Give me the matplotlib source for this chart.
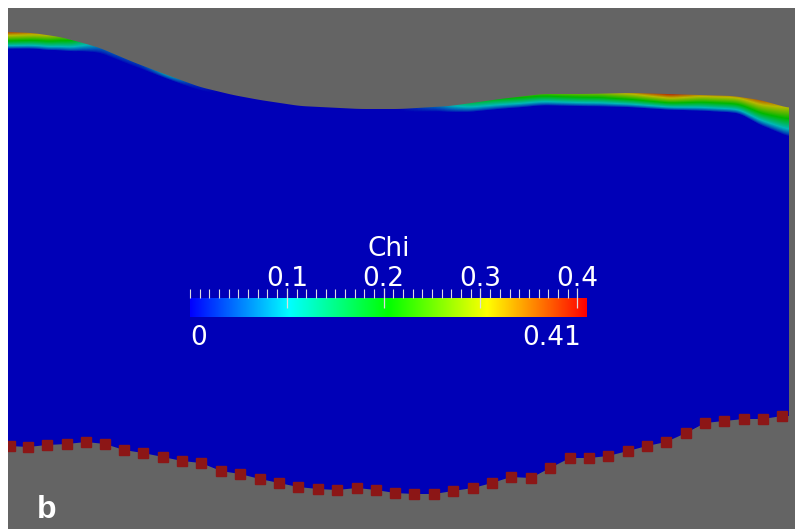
import numpy as np
import matplotlib.pyplot as plt
from matplotlib.colors import LinearSegmentedColormap

# scene coordinates in image pixels (x to the right, y downwards)
# free surface of the fluid domain
surface_x = [8, 33, 60, 83, 100, 133, 167, 200, 233, 260, 300, 360, 400, 450, 500, 543, 583, 633, 667, 733, 760, 789]
surface_y = [32, 33, 37, 43, 48, 62, 75, 87, 95, 100, 106, 109, 109, 106, 99, 94, 94, 93, 94, 96, 100, 108]

# Chi at the free surface and depth of the coloured layer below it
chi_x = [8, 30, 50, 70, 85, 100, 140, 165, 175, 190, 220, 400, 440, 470, 520, 560, 600, 640, 670, 700, 740, 760, 789]
chi_top = [0.37, 0.34, 0.30, 0.22, 0.12, 0.05, 0.03, 0.09, 0.08, 0.03, 0.0, 0.0, 0.06, 0.16, 0.22, 0.25, 0.27, 0.34, 0.39, 0.33, 0.33, 0.36, 0.30]
layer_depth = [17, 16, 15, 12, 8, 5, 4, 4, 4, 4, 3, 3, 5, 9, 11, 12, 13, 15, 16, 16, 17, 25, 29]

# bottom boundary nodes (red squares)
node_x = [10, 28, 47, 67, 86, 105, 124, 143, 163, 182, 201, 221, 240, 260, 279, 298, 318, 337, 357, 376, 395,
          414, 434, 453, 473, 492, 511, 531, 550, 570, 589, 608, 628, 647, 666, 686, 705, 724, 744, 763, 782]
node_y = [446, 447, 445, 444, 442, 444, 450, 453, 457, 461, 463, 471, 474, 479, 483, 487, 489, 490, 488, 490, 493,
          494, 494, 491, 488, 483, 477, 478, 468, 458, 458, 456, 451, 446, 442, 433, 423, 421, 419, 419, 416]

chi_max = 0.41
x_left, x_right = 8, 789

rainbow = ['#0000ff', '#00ffff', '#00ff00', '#ffff00', '#ff0000']
cmap_bar = LinearSegmentedColormap.from_list('rainbow', rainbow)

fig = plt.figure(figsize=(7.95, 5.29), dpi=100, facecolor='white')
ax = fig.add_axes([8 / 795, 0, 787 / 795, 521 / 529])
ax.set_facecolor('#646464')
ax.set_xlim(8, 795)
ax.set_ylim(529, 8)
ax.set_xticks([])
ax.set_yticks([])
for s in ax.spines.values():
    s.set_visible(False)


def smooth(v, n):
    k = np.ones(n) / n
    pad = np.concatenate([np.full(n, v[0]), v, np.full(n, v[-1])])
    return np.convolve(pad, k, mode='same')[n:-n]


# field on a pixel grid
gx = np.arange(8, 795) + 0.5
gy = np.arange(8, 529) + 0.5
X, Y = np.meshgrid(gx, gy)
top = smooth(np.interp(gx, surface_x, surface_y), 15)
bottom = smooth(np.interp(gx, node_x, node_y), 9)
c_top = smooth(np.interp(gx, chi_x, chi_top), 11)
thick = smooth(np.interp(gx, chi_x, layer_depth), 11)
depth = Y - top[None, :]
chi = c_top[None, :] * np.clip(1 - depth / thick[None, :], 0, 1) ** 0.8
rgba = cmap_bar(chi / chi_max)
rgba[..., :3] *= 0.72
alpha = np.clip(depth + 0.5, 0, 1) * np.clip(bottom[None, :] - Y + 0.5, 0, 1)
alpha *= np.clip(x_right - X + 0.5, 0, 1)
rgba[..., 3] = alpha
ax.imshow(rgba, extent=(8, 795, 529, 8), interpolation='bilinear', zorder=1)

ax.plot(node_x, node_y, ls='none', marker='s', markersize=7.2, color='#8c1616', zorder=3)

ax.text(37, 518, 'b', color='white', fontsize=23, fontweight='bold',
        family='Liberation Sans', ha='left', va='baseline', zorder=4)

# colour bar
font_size = 19
cax = fig.add_axes([190 / 795, (529 - 317) / 529, 397 / 795, 19 / 529])
cax.imshow(np.linspace(0, 1, 256)[None, :], cmap=cmap_bar, aspect='auto', extent=(0, chi_max, 0, 1))
cax.set_xlim(0, chi_max)
for s in cax.spines.values():
    s.set_visible(False)
cax.set_yticks([])
cax.xaxis.set_ticks_position('top')
cax.set_xticks([0.1, 0.2, 0.3, 0.4])
cax.set_xticklabels(['0.1', '0.2', '0.3', '0.4'])
cax.set_xticks(np.arange(0, 0.405, 0.01), minor=True)
cax.tick_params(which='major', direction='inout', length=15, width=0.9, color='#dddddd',
                labelsize=font_size, labelcolor='white', pad=-3)
cax.tick_params(which='minor', direction='out', length=6.5, width=0.8, color='#dddddd')
cax.text(0.5, 1 + (298 - 256) / 19, 'Chi', transform=cax.transAxes, color='white', fontsize=font_size,
         ha='center', va='baseline')
cax.text(0.0, 1 - (345 - 298) / 19, '0', transform=cax.transAxes, color='white', fontsize=font_size,
         ha='left', va='baseline')
cax.text((581 - 190) / 397, 1 - (345 - 298) / 19, '0.41', transform=cax.transAxes, color='white',
         fontsize=font_size, ha='right', va='baseline')

fig.savefig('out.png', dpi=100, facecolor='white')
